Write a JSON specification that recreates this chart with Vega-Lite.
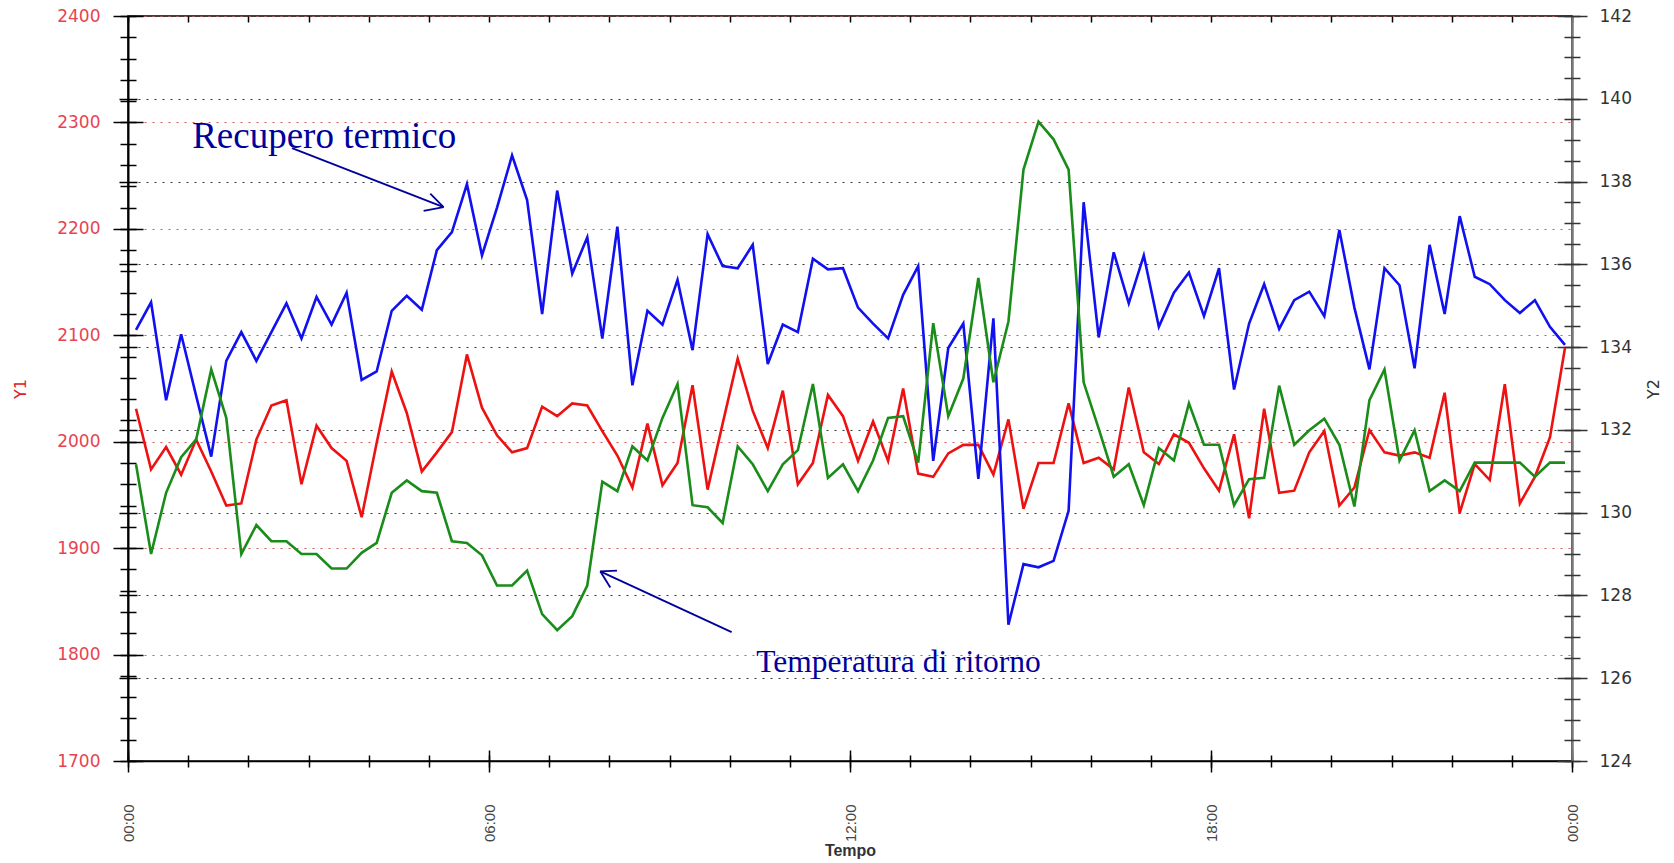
{
  "$schema": "https://vega.github.io/schema/vega-lite/v6.json",
  "width": 1444,
  "height": 745,
  "autosize": {"type": "none"},
  "padding": {"left": 128, "top": 16, "right": 102, "bottom": 102},
  "background": "#ffffff",
  "config": {"view": {"stroke": "#000000", "strokeWidth": 1.5}},
  "data": {"values": [
    {"t":"2024-01-01T00:08","blue":2105,"red":2031,"green":131.17},
    {"t":"2024-01-01T00:23","blue":2131,"red":1974,"green":129.0},
    {"t":"2024-01-01T00:38","blue":2039,"red":1995,"green":130.48},
    {"t":"2024-01-01T00:53","blue":2101,"red":1969,"green":131.34},
    {"t":"2024-01-01T01:08","blue":2043,"red":2002,"green":131.77},
    {"t":"2024-01-01T01:23","blue":1986,"red":1972,"green":133.46},
    {"t":"2024-01-01T01:38","blue":2076,"red":1940,"green":132.29},
    {"t":"2024-01-01T01:53","blue":2103,"red":1942,"green":129.0},
    {"t":"2024-01-01T02:08","blue":2076,"red":2002,"green":129.7},
    {"t":"2024-01-01T02:23","blue":2103,"red":2034,"green":129.31},
    {"t":"2024-01-01T02:38","blue":2130,"red":2039,"green":129.31},
    {"t":"2024-01-01T02:53","blue":2097,"red":1960,"green":129.0},
    {"t":"2024-01-01T03:08","blue":2136,"red":2015,"green":129.0},
    {"t":"2024-01-01T03:23","blue":2110,"red":1994,"green":128.65},
    {"t":"2024-01-01T03:38","blue":2140,"red":1982,"green":128.65},
    {"t":"2024-01-01T03:53","blue":2058,"red":1929,"green":129.03},
    {"t":"2024-01-01T04:08","blue":2066,"red":1999,"green":129.27},
    {"t":"2024-01-01T04:23","blue":2123,"red":2066,"green":130.48},
    {"t":"2024-01-01T04:38","blue":2137,"red":2027,"green":130.78},
    {"t":"2024-01-01T04:53","blue":2124,"red":1972,"green":130.52},
    {"t":"2024-01-01T05:08","blue":2180,"red":1990,"green":130.48},
    {"t":"2024-01-01T05:23","blue":2197,"red":2009,"green":129.31},
    {"t":"2024-01-01T05:38","blue":2242,"red":2082,"green":129.27},
    {"t":"2024-01-01T05:53","blue":2175,"red":2032,"green":128.97},
    {"t":"2024-01-01T06:08","blue":2220,"red":2006,"green":128.24},
    {"t":"2024-01-01T06:23","blue":2269,"red":1990,"green":128.24},
    {"t":"2024-01-01T06:38","blue":2227,"red":1994,"green":128.6},
    {"t":"2024-01-01T06:53","blue":2120,"red":2033,"green":127.55},
    {"t":"2024-01-01T07:08","blue":2236,"red":2024,"green":127.16},
    {"t":"2024-01-01T07:23","blue":2158,"red":2036,"green":127.5},
    {"t":"2024-01-01T07:38","blue":2192,"red":2034,"green":128.24},
    {"t":"2024-01-01T07:53","blue":2097,"red":2010,"green":130.75},
    {"t":"2024-01-01T08:08","blue":2202,"red":1987,"green":130.52},
    {"t":"2024-01-01T08:23","blue":2053,"red":1957,"green":131.6},
    {"t":"2024-01-01T08:38","blue":2123,"red":2017,"green":131.26},
    {"t":"2024-01-01T08:53","blue":2110,"red":1959,"green":132.29},
    {"t":"2024-01-01T09:08","blue":2152,"red":1980,"green":133.11},
    {"t":"2024-01-01T09:23","blue":2086,"red":2053,"green":130.18},
    {"t":"2024-01-01T09:38","blue":2195,"red":1955,"green":130.13},
    {"t":"2024-01-01T09:53","blue":2165,"red":2017,"green":129.75},
    {"t":"2024-01-01T10:08","blue":2163,"red":2078,"green":131.6},
    {"t":"2024-01-01T10:23","blue":2185,"red":2029,"green":131.17},
    {"t":"2024-01-01T10:38","blue":2073,"red":1994,"green":130.52},
    {"t":"2024-01-01T10:53","blue":2110,"red":2048,"green":131.17},
    {"t":"2024-01-01T11:08","blue":2103,"red":1960,"green":131.51},
    {"t":"2024-01-01T11:23","blue":2172,"red":1980,"green":133.11},
    {"t":"2024-01-01T11:38","blue":2162,"red":2044,"green":130.84},
    {"t":"2024-01-01T11:53","blue":2163,"red":2024,"green":131.17},
    {"t":"2024-01-01T12:08","blue":2126,"red":1982,"green":130.52},
    {"t":"2024-01-01T12:23","blue":2111,"red":2019,"green":131.26},
    {"t":"2024-01-01T12:38","blue":2097,"red":1982,"green":132.29},
    {"t":"2024-01-01T12:53","blue":2138,"red":2050,"green":132.33},
    {"t":"2024-01-01T13:08","blue":2165,"red":1970,"green":131.21},
    {"t":"2024-01-01T13:23","blue":1982,"red":1967,"green":134.58},
    {"t":"2024-01-01T13:38","blue":2088,"red":1989,"green":132.33},
    {"t":"2024-01-01T13:53","blue":2111,"red":1997,"green":133.24},
    {"t":"2024-01-01T14:08","blue":1965,"red":1997,"green":135.67},
    {"t":"2024-01-01T14:23","blue":2116,"red":1969,"green":133.15},
    {"t":"2024-01-01T14:38","blue":1828,"red":2021,"green":134.62},
    {"t":"2024-01-01T14:53","blue":1885,"red":1937,"green":138.29},
    {"t":"2024-01-01T15:08","blue":1882,"red":1980,"green":139.45},
    {"t":"2024-01-01T15:23","blue":1888,"red":1980,"green":139.02},
    {"t":"2024-01-01T15:38","blue":1935,"red":2036,"green":138.29},
    {"t":"2024-01-01T15:53","blue":2225,"red":1980,"green":133.15},
    {"t":"2024-01-01T16:08","blue":2098,"red":1985,"green":132.03},
    {"t":"2024-01-01T16:23","blue":2178,"red":1974,"green":130.87},
    {"t":"2024-01-01T16:38","blue":2130,"red":2051,"green":131.17},
    {"t":"2024-01-01T16:53","blue":2175,"red":1990,"green":130.18},
    {"t":"2024-01-01T17:08","blue":2108,"red":1979,"green":131.56},
    {"t":"2024-01-01T17:23","blue":2140,"red":2007,"green":131.26},
    {"t":"2024-01-01T17:38","blue":2159,"red":1999,"green":132.64},
    {"t":"2024-01-01T17:53","blue":2118,"red":1975,"green":131.64},
    {"t":"2024-01-01T18:08","blue":2163,"red":1954,"green":131.64},
    {"t":"2024-01-01T18:23","blue":2049,"red":2007,"green":130.18},
    {"t":"2024-01-01T18:38","blue":2111,"red":1928,"green":130.81},
    {"t":"2024-01-01T18:53","blue":2148,"red":2031,"green":130.84},
    {"t":"2024-01-01T19:08","blue":2106,"red":1952,"green":133.07},
    {"t":"2024-01-01T19:23","blue":2133,"red":1954,"green":131.64},
    {"t":"2024-01-01T19:38","blue":2141,"red":1990,"green":131.99},
    {"t":"2024-01-01T19:53","blue":2118,"red":2010,"green":132.27},
    {"t":"2024-01-01T20:08","blue":2199,"red":1940,"green":131.64},
    {"t":"2024-01-01T20:23","blue":2126,"red":1957,"green":130.15},
    {"t":"2024-01-01T20:38","blue":2068,"red":2011,"green":132.72},
    {"t":"2024-01-01T20:53","blue":2163,"red":1990,"green":133.46},
    {"t":"2024-01-01T21:08","blue":2147,"red":1987,"green":131.26},
    {"t":"2024-01-01T21:23","blue":2069,"red":1990,"green":131.99},
    {"t":"2024-01-01T21:38","blue":2185,"red":1985,"green":130.52},
    {"t":"2024-01-01T21:53","blue":2120,"red":2046,"green":130.78},
    {"t":"2024-01-01T22:08","blue":2212,"red":1933,"green":130.52},
    {"t":"2024-01-01T22:23","blue":2155,"red":1979,"green":131.21},
    {"t":"2024-01-01T22:38","blue":2148,"red":1964,"green":131.21},
    {"t":"2024-01-01T22:53","blue":2133,"red":2054,"green":131.21},
    {"t":"2024-01-01T23:08","blue":2121,"red":1942,"green":131.21},
    {"t":"2024-01-01T23:23","blue":2133,"red":1967,"green":130.87},
    {"t":"2024-01-01T23:38","blue":2108,"red":2004,"green":131.21},
    {"t":"2024-01-01T23:53","blue":2091,"red":2088,"green":131.21}
  ]},
  "resolve": {"scale": {"y": "independent"}, "axis": {"x": "independent", "y": "independent"}},
  "layer": [
    {
      "mark": {"type": "line", "opacity": 0},
      "encoding": {
        "x": {"field": "t", "type": "temporal",
              "scale": {"domain": [{"year": 2024, "month": 1, "date": 1, "hours": 0}, {"year": 2024, "month": 1, "date": 2, "hours": 0}], "nice": false},
              "axis": {"orient": "bottom", "tickCount": 24, "tickSize": 6, "tickWidth": 1.5, "tickColor": "#000000", "domain": true, "domainColor": "#000000", "domainWidth": 1.5, "labels": false, "grid": false, "title": null}},
        "y": {"field": "red", "type": "quantitative",
              "scale": {"domain": [1700, 2400], "nice": false, "zero": false},
              "axis": {"orient": "left", "values": [1700, 1800, 1900, 2000, 2100, 2200, 2300, 2400], "grid": true, "gridColor": "#e05050", "gridDash": [2, 6], "gridWidth": 1.2, "ticks": false, "labels": false, "domain": true, "domainColor": "#000000", "domainWidth": 2, "title": null}}
      }
    },
    {
      "mark": {"type": "line", "opacity": 0},
      "encoding": {
        "x": {"field": "t", "type": "temporal",
              "scale": {"domain": [{"year": 2024, "month": 1, "date": 1, "hours": 0}, {"year": 2024, "month": 1, "date": 2, "hours": 0}], "nice": false},
              "axis": {"orient": "bottom", "tickCount": 24, "tickSize": -6, "tickWidth": 1.5, "tickColor": "#000000", "domain": false, "labels": false, "grid": false, "title": null}},
        "y": {"field": "green", "type": "quantitative",
              "scale": {"domain": [124, 142], "nice": false, "zero": false},
              "axis": {"orient": "right", "values": [126, 128, 130, 132, 134, 136, 138, 140], "grid": true, "gridColor": "#333333", "gridDash": [2, 6], "gridWidth": 1.2, "ticks": false, "labels": false, "domain": true, "domainColor": "#7a7a7a", "domainWidth": 2.5, "title": null}}
      }
    },
    {
      "mark": {"type": "line", "color": "#ee1111", "strokeWidth": 2.6},
      "encoding": {
        "x": {"field": "t", "type": "temporal",
              "scale": {"domain": [{"year": 2024, "month": 1, "date": 1, "hours": 0}, {"year": 2024, "month": 1, "date": 2, "hours": 0}], "nice": false},
              "axis": {"orient": "bottom",
                       "values": [{"year": 2024, "month": 1, "date": 1, "hours": 0}, {"year": 2024, "month": 1, "date": 1, "hours": 6}, {"year": 2024, "month": 1, "date": 1, "hours": 12}, {"year": 2024, "month": 1, "date": 1, "hours": 18}, {"year": 2024, "month": 1, "date": 2, "hours": 0}],
                       "tickSize": 11, "tickWidth": 1.5, "tickColor": "#000000", "domain": false, "grid": false,
                       "format": "%H:%M", "labelAngle": -90, "labelAlign": "right", "labelBaseline": "middle",
                       "labelFont": "Liberation Sans", "labelFontSize": 15, "labelColor": "#444444", "labelPadding": 32,
                       "title": "Tempo", "titleFont": "Liberation Sans", "titleFontSize": 16, "titleFontWeight": "bold", "titleColor": "#333333", "titlePadding": 1}},
        "y": {"field": "red", "type": "quantitative",
              "scale": {"domain": [1700, 2400], "nice": false, "zero": false},
              "axis": {"orient": "left", "values": [1700, 1800, 1900, 2000, 2100, 2200, 2300, 2400], "tickSize": 15, "tickWidth": 1.5, "tickColor": "#000000", "domain": false, "grid": false,
                       "labelFont": "DejaVu Sans", "labelFontSize": 17, "labelColor": "#e8434f", "labelPadding": 13, "format": "d",
                       "title": "Y1", "titleFont": "DejaVu Sans", "titleFontSize": 16, "titleFontWeight": "normal", "titleColor": "#e02020", "titleAngle": -90, "titlePadding": 28}}
      }
    },
    {
      "mark": {"type": "line", "color": "#1010f0", "strokeWidth": 2.6},
      "encoding": {
        "x": {"field": "t", "type": "temporal",
              "scale": {"domain": [{"year": 2024, "month": 1, "date": 1, "hours": 0}, {"year": 2024, "month": 1, "date": 2, "hours": 0}], "nice": false},
              "axis": {"orient": "bottom",
                       "values": [{"year": 2024, "month": 1, "date": 1, "hours": 0}, {"year": 2024, "month": 1, "date": 1, "hours": 6}, {"year": 2024, "month": 1, "date": 1, "hours": 12}, {"year": 2024, "month": 1, "date": 1, "hours": 18}, {"year": 2024, "month": 1, "date": 2, "hours": 0}],
                       "tickSize": -11, "tickWidth": 1.5, "tickColor": "#000000", "domain": false, "labels": false, "grid": false, "title": null}},
        "y": {"field": "blue", "type": "quantitative",
              "scale": {"domain": [1700, 2400], "nice": false, "zero": false},
              "axis": {"orient": "left", "values": [1700,1720,1740,1760,1780,1800,1820,1840,1860,1880,1900,1920,1940,1960,1980,2000,2020,2040,2060,2080,2100,2120,2140,2160,2180,2200,2220,2240,2260,2280,2300,2320,2340,2360,2380,2400],
                       "tickSize": 8, "tickWidth": 1.5, "tickColor": "#000000", "labels": false, "domain": false, "grid": false, "title": null}}
      }
    },
    {
      "mark": {"type": "line", "color": "#1a8c1a", "strokeWidth": 2.6},
      "encoding": {
        "x": {"field": "t", "type": "temporal",
              "scale": {"domain": [{"year": 2024, "month": 1, "date": 1, "hours": 0}, {"year": 2024, "month": 1, "date": 2, "hours": 0}], "nice": false},
              "axis": {"orient": "top", "tickCount": 24, "tickSize": -6, "tickWidth": 1.5, "tickColor": "#000000", "domain": false, "labels": false, "grid": false, "title": null}},
        "y": {"field": "green", "type": "quantitative",
              "scale": {"domain": [124, 142], "nice": false, "zero": false},
              "axis": {"orient": "right", "values": [124, 126, 128, 130, 132, 134, 136, 138, 140, 142], "tickSize": 15, "tickWidth": 1.5, "tickColor": "#333333", "domain": false, "grid": false,
                       "labelFont": "DejaVu Sans", "labelFontSize": 17, "labelColor": "#333333", "labelPadding": 12,
                       "title": "Y2", "titleFont": "DejaVu Sans", "titleFontSize": 16, "titleFontWeight": "normal", "titleColor": "#333333", "titleAngle": -90, "titlePadding": 30}}
      }
    },
    {
      "mark": {"type": "line", "opacity": 0},
      "encoding": {
        "x": {"field": "t", "type": "temporal",
              "scale": {"domain": [{"year": 2024, "month": 1, "date": 1, "hours": 0}, {"year": 2024, "month": 1, "date": 2, "hours": 0}], "nice": false},
              "axis": null},
        "y": {"field": "green", "type": "quantitative",
              "scale": {"domain": [124, 142], "nice": false, "zero": false},
              "axis": {"orient": "right", "values": [124,124.5,125,125.5,126,126.5,127,127.5,128,128.5,129,129.5,130,130.5,131,131.5,132,132.5,133,133.5,134,134.5,135,135.5,136,136.5,137,137.5,138,138.5,139,139.5,140,140.5,141,141.5,142],
                       "tickSize": 8, "tickWidth": 1.5, "tickColor": "#333333", "labels": false, "domain": false, "grid": false, "title": null}}
      }
    },
    {
      "mark": {"type": "line", "opacity": 0},
      "encoding": {
        "x": {"field": "t", "type": "temporal",
              "scale": {"domain": [{"year": 2024, "month": 1, "date": 1, "hours": 0}, {"year": 2024, "month": 1, "date": 2, "hours": 0}], "nice": false},
              "axis": null},
        "y": {"field": "green", "type": "quantitative",
              "scale": {"domain": [124, 142], "nice": false, "zero": false},
              "axis": {"orient": "right", "values": [124,124.5,125,125.5,126,126.5,127,127.5,128,128.5,129,129.5,130,130.5,131,131.5,132,132.5,133,133.5,134,134.5,135,135.5,136,136.5,137,137.5,138,138.5,139,139.5,140,140.5,141,141.5,142],
                       "tickSize": -8, "tickWidth": 1.5, "tickColor": "#333333", "labels": false, "domain": false, "grid": false, "title": null}}
      }
    },
    {
      "mark": {"type": "line", "opacity": 0},
      "encoding": {
        "x": {"field": "t", "type": "temporal",
              "scale": {"domain": [{"year": 2024, "month": 1, "date": 1, "hours": 0}, {"year": 2024, "month": 1, "date": 2, "hours": 0}], "nice": false},
              "axis": null},
        "y": {"field": "green", "type": "quantitative",
              "scale": {"domain": [124, 142], "nice": false, "zero": false},
              "axis": {"orient": "right", "values": [124, 126, 128, 130, 132, 134, 136, 138, 140, 142], "tickSize": -15, "tickWidth": 1.5, "tickColor": "#333333", "labels": false, "domain": false, "grid": false, "title": null}}
      }
    },
    {
      "mark": {"type": "line", "opacity": 0},
      "encoding": {
        "x": {"field": "t", "type": "temporal",
              "scale": {"domain": [{"year": 2024, "month": 1, "date": 1, "hours": 0}, {"year": 2024, "month": 1, "date": 2, "hours": 0}], "nice": false},
              "axis": null},
        "y": {"field": "red", "type": "quantitative",
              "scale": {"domain": [1700, 2400], "nice": false, "zero": false},
              "axis": {"orient": "left", "values": [1700,1720,1740,1760,1780,1800,1820,1840,1860,1880,1900,1920,1940,1960,1980,2000,2020,2040,2060,2080,2100,2120,2140,2160,2180,2200,2220,2240,2260,2280,2300,2320,2340,2360,2380,2400],
                       "tickSize": -8, "tickWidth": 1.5, "tickColor": "#000000", "labels": false, "domain": false, "grid": false, "title": null}}
      }
    },
    {
      "mark": {"type": "line", "opacity": 0},
      "encoding": {
        "x": {"field": "t", "type": "temporal",
              "scale": {"domain": [{"year": 2024, "month": 1, "date": 1, "hours": 0}, {"year": 2024, "month": 1, "date": 2, "hours": 0}], "nice": false},
              "axis": null},
        "y": {"field": "red", "type": "quantitative",
              "scale": {"domain": [1700, 2400], "nice": false, "zero": false},
              "axis": {"orient": "left", "values": [1700, 1800, 1900, 2000, 2100, 2200, 2300, 2400], "tickSize": -15, "tickWidth": 1.5, "tickColor": "#000000", "labels": false, "domain": false, "grid": false, "title": null}}
      }
    },
    {
      "mark": {"type": "line", "opacity": 0},
      "encoding": {
        "x": {"field": "t", "type": "temporal",
              "scale": {"domain": [{"year": 2024, "month": 1, "date": 1, "hours": 0}, {"year": 2024, "month": 1, "date": 2, "hours": 0}], "nice": false},
              "axis": null},
        "y": {"field": "green", "type": "quantitative",
              "scale": {"domain": [124, 142], "nice": false, "zero": false},
              "axis": {"orient": "left", "values": [126, 128, 130, 132, 134, 136, 138, 140], "tickSize": 9, "tickWidth": 1.5, "tickColor": "#000000", "labels": false, "domain": false, "grid": false, "title": null}}
      }
    },
    {
      "mark": {"type": "line", "opacity": 0},
      "encoding": {
        "x": {"field": "t", "type": "temporal",
              "scale": {"domain": [{"year": 2024, "month": 1, "date": 1, "hours": 0}, {"year": 2024, "month": 1, "date": 2, "hours": 0}], "nice": false},
              "axis": null},
        "y": {"field": "green", "type": "quantitative",
              "scale": {"domain": [124, 142], "nice": false, "zero": false},
              "axis": {"orient": "left", "values": [126, 128, 130, 132, 134, 136, 138, 140], "tickSize": -9, "tickWidth": 1.5, "tickColor": "#000000", "labels": false, "domain": false, "grid": false, "title": null}}
      }
    },
    {
      "data": {"values": [{"t": "2024-01-01T01:04:00", "v": 2275.8, "label": "Recupero termico"}]},
      "mark": {"type": "text", "font": "Liberation Serif", "fontSize": 37, "color": "#00009c", "align": "left", "baseline": "alphabetic"},
      "encoding": {
        "x": {"field": "t", "type": "temporal", "axis": null},
        "y": {"field": "v", "type": "quantitative", "scale": {"domain": [1700, 2400], "nice": false, "zero": false}, "axis": null},
        "text": {"field": "label"}
      }
    },
    {
      "data": {"values": [{"t": "2024-01-01T10:26:24", "v": 1784, "label": "Temperatura di ritorno"}]},
      "mark": {"type": "text", "font": "Liberation Serif", "fontSize": 31.5, "color": "#00009c", "align": "left", "baseline": "alphabetic"},
      "encoding": {
        "x": {"field": "t", "type": "temporal", "axis": null},
        "y": {"field": "v", "type": "quantitative", "scale": {"domain": [1700, 2400], "nice": false, "zero": false}, "axis": null},
        "text": {"field": "label"}
      }
    },
    {
      "data": {"values": [
        {"t": "2024-01-01T02:43:34", "v": 2275.8, "t2": "2024-01-01T05:14:42", "v2": 2220.4},
        {"t": "2024-01-01T05:14:42", "v": 2220.4, "t2": "2024-01-01T05:01:26", "v2": 2233.0},
        {"t": "2024-01-01T05:14:42", "v": 2220.4, "t2": "2024-01-01T04:54:47", "v2": 2217.0},
        {"t": "2024-01-01T10:01:59", "v": 1821.1, "t2": "2024-01-01T07:50:56", "v2": 1878.2},
        {"t": "2024-01-01T07:50:56", "v": 1878.2, "t2": "2024-01-01T08:07:37", "v2": 1878.8},
        {"t": "2024-01-01T07:50:56", "v": 1878.2, "t2": "2024-01-01T08:00:58", "v2": 1863.0}
      ]},
      "mark": {"type": "rule", "color": "#00009c", "strokeWidth": 1.8},
      "encoding": {
        "x": {"field": "t", "type": "temporal", "axis": null},
        "x2": {"field": "t2"},
        "y": {"field": "v", "type": "quantitative", "scale": {"domain": [1700, 2400], "nice": false, "zero": false}, "axis": null},
        "y2": {"field": "v2"}
      }
    }
  ]
}
